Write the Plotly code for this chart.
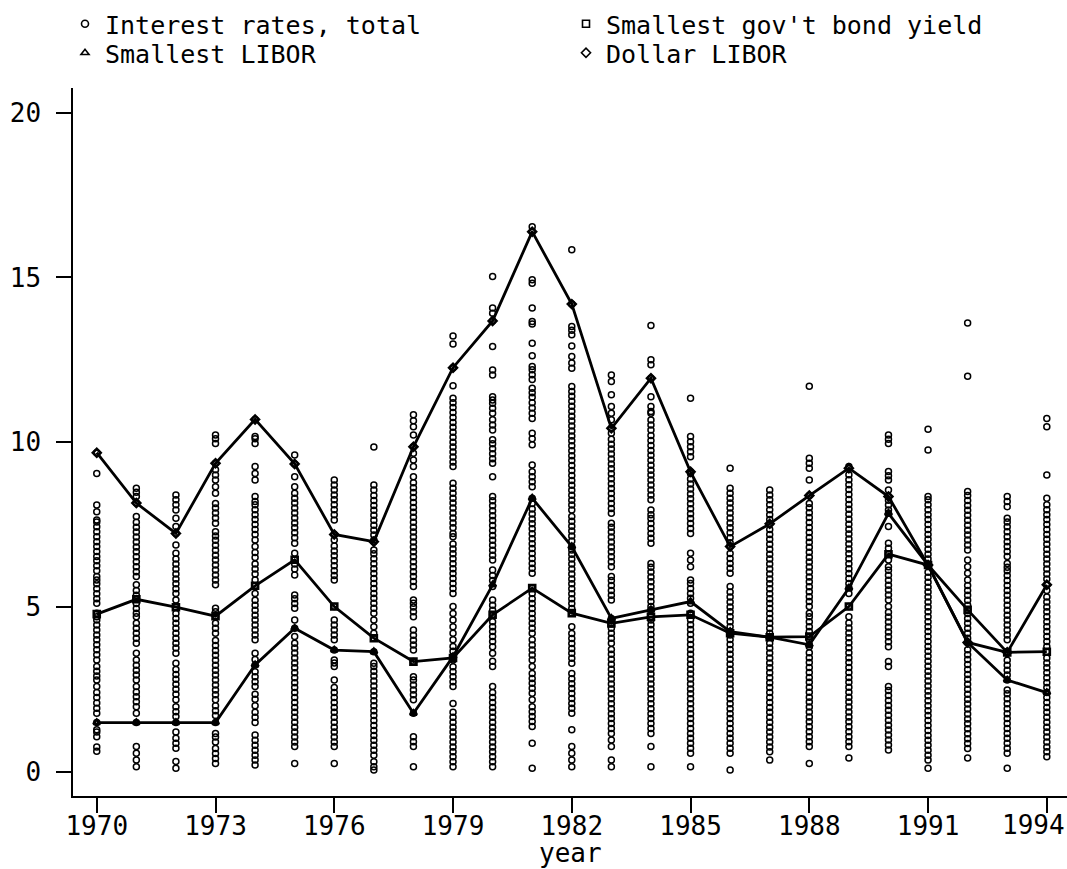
import plotly.graph_objects as go

years = list(range(1970, 1995))

dollar_libor = [9.68, 8.15, 7.23, 9.36, 10.69, 9.34, 7.20, 6.98, 9.86, 12.26, 13.68, 16.39, 14.19,
                10.42, 11.94, 9.10, 6.83, 7.52, 8.38, 9.21, 8.35, 6.27, 3.92, 3.62, 5.67]
smallest_bond = [4.78, 5.23, 4.99, 4.72, 5.64, 6.43, 5.01, 4.05, 3.34, 3.45, 4.76, 5.57, 4.81,
                 4.50, 4.70, 4.76, 4.20, 4.08, 4.10, 5.01, 6.60, 6.27, 4.91, 3.62, 3.64]
smallest_libor = [1.49, 1.49, 1.49, 1.49, 3.24, 4.35, 3.69, 3.64, 1.77, 3.49, 5.67, 8.30, 6.83,
                  4.65, 4.91, 5.16, 4.25, 4.08, 3.85, 5.57, 7.84, 6.27, 3.92, 2.78, 2.40]

rates_1970 = [0.62,0.75,1.06,1.2,1.27,1.49,1.77,1.92,2.08,2.25,2.4,2.58,2.78,2.9,3.05,3.19,3.39,3.55,3.7,3.85,4.0,4.15,4.3,4.45,4.6,4.7,4.81,5.11,5.25,5.4,5.55,5.7,5.82,5.92,6.1,6.25,6.4,6.53,6.68,6.83,6.98,7.13,7.28,7.43,7.58,7.64,7.89,8.09,9.05,9.68]
rates_1971 = [0.15,0.35,0.56,0.76,1.49,1.77,1.97,2.12,2.27,2.42,2.58,2.78,2.93,3.08,3.23,3.39,3.59,3.9,4.05,4.2,4.35,4.5,4.7,4.81,4.95,5.1,5.23,5.35,5.5,5.67,5.92,6.07,6.22,6.37,6.52,6.67,6.82,6.97,7.12,7.27,7.42,7.57,7.74,8.15,8.35,8.48,8.6]
rates_1972 = [0.1,0.31,0.71,0.86,1.01,1.2,1.49,1.67,1.82,1.97,2.18,2.35,2.5,2.65,2.8,2.95,3.1,3.29,3.59,3.75,3.9,4.05,4.2,4.35,4.5,4.65,4.8,4.99,5.21,5.41,5.55,5.7,5.85,6.0,6.15,6.3,6.45,6.63,6.88,7.23,7.44,7.69,7.94,8.1,8.25,8.4]
rates_1973 = [0.25,0.4,0.55,0.7,0.9,1.05,1.16,1.49,1.7,1.85,2.0,2.18,2.33,2.48,2.63,2.78,2.93,3.08,3.23,3.38,3.53,3.68,3.83,3.98,4.2,4.35,4.5,4.72,4.85,4.96,5.67,5.82,5.97,6.12,6.27,6.42,6.57,6.72,6.87,7.02,7.15,7.28,7.54,7.7,7.85,8.0,8.14,8.45,8.65,8.85,9.0,9.16,9.36,9.96,10.1,10.22]
rates_1974 = [0.2,0.35,0.5,0.65,0.8,0.95,1.11,1.49,1.65,1.8,2.0,2.2,2.35,2.58,2.73,2.88,3.03,3.24,3.4,3.59,4.0,4.15,4.3,4.45,4.6,4.75,4.9,5.05,5.2,5.41,5.64,5.82,6.0,6.15,6.3,6.5,6.65,6.83,7.03,7.2,7.35,7.5,7.65,7.8,7.95,8.1,8.2,8.35,8.85,9.05,9.26,9.96,10.1,10.17,10.69]
rates_1975 = [0.25,0.76,0.9,1.05,1.2,1.35,1.5,1.65,1.8,1.95,2.1,2.25,2.4,2.55,2.7,2.85,3.0,3.15,3.3,3.45,3.6,3.75,3.9,4.1,4.35,4.6,4.96,5.1,5.25,5.36,5.97,6.15,6.3,6.43,6.63,6.93,7.1,7.25,7.4,7.55,7.7,7.85,8.0,8.15,8.3,8.45,8.65,8.95,9.34,9.61]
rates_1976 = [0.25,0.76,0.9,1.05,1.2,1.35,1.5,1.65,1.8,1.95,2.1,2.25,2.4,2.55,2.78,3.19,3.3,3.39,3.69,4.0,4.15,4.3,4.45,4.6,5.01,5.82,5.95,6.1,6.25,6.4,6.55,6.7,6.85,7.03,7.2,7.64,7.8,7.95,8.1,8.25,8.4,8.55,8.7,8.85]
rates_1977 = [0.05,0.15,0.3,0.5,0.65,0.8,0.95,1.1,1.25,1.4,1.55,1.7,1.85,2.0,2.15,2.3,2.45,2.6,2.75,2.9,3.05,3.19,3.29,3.64,4.05,4.2,4.4,4.6,4.81,4.96,5.11,5.26,5.41,5.56,5.71,5.86,6.01,6.16,6.31,6.46,6.61,6.73,6.98,7.03,7.18,7.33,7.48,7.63,7.78,7.93,8.08,8.23,8.38,8.55,8.7,9.85]
rates_1978 = [0.15,0.76,0.91,1.06,1.77,2.18,2.33,2.48,2.63,2.78,2.88,3.34,3.69,3.84,3.99,4.14,4.3,4.7,4.85,5.0,5.11,5.21,5.62,5.77,5.92,6.07,6.22,6.37,6.52,6.67,6.82,6.97,7.12,7.27,7.42,7.57,7.72,7.87,8.02,8.17,8.32,8.47,8.62,8.77,8.95,9.26,9.46,9.66,9.86,10.22,10.47,10.65,10.83]
rates_1979 = [0.15,0.3,0.45,0.6,0.75,0.9,1.05,1.2,1.35,1.5,1.65,1.8,2.07,2.58,2.73,2.88,3.03,3.18,3.39,3.49,3.65,3.8,4.0,4.2,4.4,4.6,4.8,5.01,5.41,5.56,5.71,5.86,6.01,6.16,6.31,6.46,6.61,6.76,6.91,7.13,7.23,7.4,7.55,7.7,7.85,8.0,8.15,8.3,8.45,8.6,8.75,9.26,9.4,9.55,9.7,9.85,10.0,10.15,10.3,10.45,10.6,10.75,10.9,11.05,11.2,11.33,11.71,12.26,12.98,13.22]
rates_1980 = [0.15,0.3,0.45,0.6,0.75,0.9,1.05,1.2,1.35,1.5,1.65,1.8,1.95,2.1,2.25,2.4,2.58,3.19,3.35,3.59,3.79,3.95,4.1,4.25,4.4,4.55,4.76,4.9,5.05,5.21,5.62,5.8,5.95,6.12,6.42,6.57,6.72,6.87,7.02,7.17,7.32,7.47,7.62,7.77,7.92,8.07,8.22,8.35,8.95,9.36,9.5,9.65,9.8,9.95,10.07,10.37,10.52,10.68,10.88,11.03,11.18,11.28,11.38,12.04,12.19,12.9,13.68,13.91,14.07,15.03]
rates_1981 = [0.1,0.86,1.37,1.52,1.67,1.82,1.97,2.18,2.38,2.53,2.68,2.83,2.98,3.19,3.39,3.54,3.69,3.84,4.0,4.2,4.35,4.5,4.65,4.8,4.95,5.1,5.25,5.41,5.57,6.02,6.17,6.32,6.47,6.62,6.77,6.92,7.07,7.22,7.37,7.52,7.67,7.82,7.97,8.14,8.3,8.65,8.8,8.95,9.1,9.31,9.92,10.1,10.27,10.72,10.88,11.04,11.2,11.36,11.5,11.64,11.9,12.05,12.2,12.3,12.62,13.0,13.59,13.66,14.07,14.82,14.93,16.39,16.54]
rates_1982 = [0.15,0.35,0.56,0.76,1.27,1.77,1.92,2.07,2.22,2.37,2.52,2.67,2.82,2.98,3.29,3.44,3.59,3.74,3.89,4.04,4.19,4.4,4.81,4.95,5.1,5.25,5.4,5.55,5.7,5.85,6.0,6.15,6.3,6.45,6.6,6.73,6.83,7.0,7.15,7.3,7.45,7.6,7.74,7.94,8.09,8.24,8.39,8.54,8.69,8.84,8.99,9.14,9.29,9.44,9.59,9.74,9.89,10.04,10.19,10.34,10.49,10.64,10.79,10.94,11.09,11.24,11.39,11.54,11.69,12.24,12.4,12.6,12.92,13.26,13.4,13.51,14.19,15.84]
rates_1983 = [0.15,0.35,0.76,0.96,1.16,1.31,1.46,1.61,1.76,1.91,2.06,2.21,2.36,2.51,2.66,2.81,2.96,3.11,3.26,3.41,3.56,3.71,3.9,4.05,4.2,4.35,4.48,4.65,5.21,5.35,5.5,5.65,5.8,5.92,6.22,6.37,6.52,6.67,6.82,6.97,7.12,7.27,7.42,7.54,7.84,7.99,8.14,8.29,8.44,8.59,8.74,8.89,9.04,9.19,9.34,9.49,9.64,9.79,9.94,10.09,10.27,10.42,10.68,10.88,11.08,11.44,11.84,12.04]
rates_1984 = [0.15,0.76,1.16,1.31,1.46,1.61,1.76,1.91,2.06,2.21,2.36,2.51,2.66,2.81,2.96,3.11,3.26,3.41,3.56,3.71,3.86,4.01,4.16,4.31,4.46,4.6,4.7,4.91,5.01,5.16,5.31,5.46,5.61,5.76,5.91,6.06,6.2,6.32,6.93,7.08,7.23,7.38,7.53,7.68,7.8,7.94,8.25,8.4,8.55,8.7,8.85,9.0,9.15,9.3,9.45,9.6,9.75,9.9,10.05,10.2,10.37,10.52,10.67,10.88,10.93,11.08,11.38,11.94,12.35,12.5,13.54]
rates_1985 = [0.15,0.56,0.71,0.86,1.01,1.16,1.31,1.46,1.61,1.76,1.91,2.06,2.21,2.36,2.51,2.66,2.81,2.96,3.11,3.26,3.41,3.56,3.71,3.86,4.01,4.16,4.31,4.46,4.61,4.76,4.81,5.11,5.26,5.41,5.56,5.71,5.82,6.22,6.42,6.63,7.23,7.38,7.53,7.68,7.83,7.98,8.13,8.28,8.43,8.58,8.73,8.88,9.05,9.1,9.56,9.71,9.86,10.01,10.17,11.33]
rates_1986 = [0.05,0.56,0.71,0.86,1.01,1.16,1.31,1.46,1.61,1.76,1.91,2.06,2.21,2.36,2.51,2.66,2.81,2.96,3.11,3.26,3.41,3.56,3.71,3.86,4.01,4.15,4.25,4.4,4.55,4.7,4.85,5.0,5.15,5.3,5.45,5.62,6.02,6.17,6.32,6.47,6.62,6.83,6.95,7.1,7.25,7.4,7.55,7.7,7.85,8.0,8.15,8.3,8.45,8.6,9.21]
rates_1987 = [0.35,0.6,0.75,0.9,1.05,1.2,1.35,1.5,1.65,1.8,1.95,2.1,2.25,2.4,2.55,2.7,2.85,3.0,3.15,3.3,3.45,3.6,3.75,3.9,4.08,4.2,4.35,4.5,4.65,4.8,4.95,5.1,5.25,5.4,5.55,5.7,5.85,6.0,6.15,6.3,6.45,6.6,6.75,6.9,7.05,7.2,7.35,7.52,7.65,7.8,7.95,8.1,8.25,8.4,8.55]
rates_1988 = [0.25,0.76,0.91,1.06,1.21,1.36,1.51,1.66,1.81,1.96,2.11,2.26,2.41,2.56,2.71,2.86,3.01,3.16,3.31,3.46,3.61,3.79,3.85,4.0,4.1,4.25,4.4,4.55,4.7,4.81,5.01,5.16,5.31,5.46,5.61,5.76,5.91,6.06,6.21,6.36,6.51,6.66,6.81,6.96,7.11,7.26,7.41,7.56,7.71,7.86,8.01,8.14,8.38,8.85,9.21,9.36,9.51,11.7]
rates_1989 = [0.41,0.76,0.91,1.06,1.21,1.36,1.51,1.66,1.81,1.96,2.11,2.26,2.41,2.56,2.71,2.86,3.01,3.16,3.31,3.46,3.61,3.76,3.91,4.06,4.21,4.36,4.51,4.7,5.01,5.41,5.57,5.71,5.86,6.01,6.16,6.31,6.46,6.61,6.76,6.91,7.06,7.21,7.36,7.51,7.66,7.81,7.96,8.11,8.26,8.41,8.56,8.71,8.86,9.01,9.21,9.26]
rates_1990 = [0.66,0.81,0.96,1.11,1.26,1.41,1.56,1.71,1.86,2.01,2.16,2.31,2.46,2.58,3.19,3.34,3.79,3.94,4.09,4.24,4.39,4.54,4.69,4.84,5.01,5.21,5.36,5.51,5.66,5.81,5.96,6.11,6.22,6.42,6.6,6.78,6.93,7.44,7.84,7.94,8.09,8.24,8.35,8.55,8.85,8.98,9.11,9.96,10.09,10.22]
rates_1991 = [0.1,0.35,0.5,0.65,0.8,0.95,1.1,1.25,1.4,1.55,1.7,1.85,2.0,2.15,2.3,2.45,2.6,2.75,2.9,3.05,3.2,3.35,3.5,3.65,3.8,3.95,4.1,4.25,4.4,4.55,4.7,4.85,5.0,5.15,5.3,5.45,5.6,5.75,5.9,6.05,6.27,6.45,6.6,6.75,6.9,7.05,7.2,7.35,7.5,7.65,7.8,7.95,8.1,8.25,8.35,9.76,10.39]
rates_1992 = [0.41,0.7,0.85,1.0,1.15,1.3,1.45,1.6,1.75,1.9,2.05,2.2,2.35,2.5,2.65,2.8,2.95,3.1,3.25,3.4,3.55,3.7,3.92,4.05,4.2,4.35,4.5,4.65,4.8,4.91,5.05,5.2,5.35,5.5,5.65,5.82,6.02,6.22,6.42,6.73,6.88,7.03,7.18,7.33,7.48,7.63,7.78,7.93,8.08,8.23,8.38,8.5,12.0,13.62]
rates_1993 = [0.1,0.56,0.71,0.86,1.01,1.16,1.31,1.46,1.61,1.76,1.91,2.06,2.21,2.36,2.48,2.78,2.93,3.08,3.23,3.38,3.59,3.62,4.0,4.15,4.3,4.45,4.6,4.75,4.9,5.05,5.2,5.35,5.5,5.65,5.8,5.95,6.1,6.2,6.32,6.53,6.68,6.83,6.98,7.13,7.28,7.43,7.58,7.69,8.04,8.2,8.35]
rates_1994 = [0.45,0.6,0.75,0.9,1.05,1.2,1.35,1.5,1.65,1.8,1.95,2.1,2.25,2.4,2.55,2.7,2.85,3.0,3.15,3.3,3.45,3.64,3.8,3.95,4.1,4.25,4.4,4.55,4.7,4.85,5.0,5.15,5.3,5.5,5.67,5.85,6.0,6.15,6.3,6.45,6.6,6.75,6.9,7.05,7.2,7.35,7.5,7.65,7.8,7.95,8.1,8.3,9.0,10.47,10.72]

rates_by_year = [rates_1970, rates_1971, rates_1972, rates_1973, rates_1974, rates_1975, rates_1976,
                 rates_1977, rates_1978, rates_1979, rates_1980, rates_1981, rates_1982, rates_1983,
                 rates_1984, rates_1985, rates_1986, rates_1987, rates_1988, rates_1989, rates_1990,
                 rates_1991, rates_1992, rates_1993, rates_1994]

x_tick_vals = [1970, 1973, 1976, 1979, 1982, 1985, 1988, 1991, 1994]
x_tick_labels = ["1970", "1973", "1976", "1979", "1982", "1985", "1988", "1991", "1994"]
y_tick_vals = [0, 5, 10, 15, 20]

scatter_x = []
scatter_y = []
for yr, vals in zip(years, rates_by_year):
    scatter_x.extend([yr] * len(vals))
    scatter_y.extend(vals)

FONT = "DejaVu Sans Mono"
W, H = 1067, 869
PLOT_BOTTOM = 796
PLOT_H = 708

fig = go.Figure()

fig.add_trace(go.Scatter(
    x=scatter_x, y=scatter_y, mode="markers", showlegend=False,
    marker=dict(symbol="circle-open", size=6, color="black", line=dict(width=1.5, color="black")),
))

line_style = dict(color="black", width=2.8)
for name, vals, sym in [("Smallest gov't bond yield", smallest_bond, "square-open"),
                        ("Smallest LIBOR", smallest_libor, "triangle-up-open"),
                        ("Dollar LIBOR", dollar_libor, "diamond-open")]:
    fig.add_trace(go.Scatter(
        x=years, y=vals, mode="lines+markers", showlegend=False, line=line_style,
        marker=dict(symbol=sym, size=6, color="black", line=dict(width=2.6, color="black")),
    ))

# legend keys (marker only), one legend box per entry
legend_items = [("Interest rates, total", "circle-open", "legend"),
                ("Smallest LIBOR", "triangle-up-open", "legend2"),
                ("Smallest gov't bond yield", "square-open", "legend3"),
                ("Dollar LIBOR", "diamond-open", "legend4")]
for name, sym, lg in legend_items:
    fig.add_trace(go.Scatter(
        x=[None], y=[None], mode="markers", name=name, legend=lg, showlegend=True,
        marker=dict(symbol=sym, size=7, color="black", line=dict(width=1.6, color="black")),
    ))

legend_common = dict(xref="container", yref="container", yanchor="middle", xanchor="left",
                     font=dict(family=FONT, size=25, color="black"), bgcolor="rgba(0,0,0,0)",
                     borderwidth=0, tracegroupgap=0, itemwidth=30)

# the last tick label sits shifted left so that it stays inside the page (as in the original)
tick_text_axis = x_tick_labels[:-1] + [""]
last_label = dict(text=x_tick_labels[-1], xref="x", yref="paper", x=x_tick_vals[-1],
                  y=-(825 - PLOT_BOTTOM) / PLOT_H, xanchor="center", yanchor="middle",
                  xshift=-13, showarrow=False, font=dict(family=FONT, size=26, color="black"))
year_title = dict(text="year", xref="paper", yref="paper", x=0.5, y=-(853 - PLOT_BOTTOM) / PLOT_H,
                  xanchor="center", yanchor="middle", showarrow=False, borderpad=0,
                  font=dict(family=FONT, size=26, color="black"))

fig.update_layout(
    width=W, height=H,
    margin=dict(l=73, r=0, t=88, b=73, autoexpand=False),
    paper_bgcolor="white", plot_bgcolor="white",
    font=dict(family=FONT, size=26, color="black"),
    showlegend=True,
    legend=dict(x=65 / W, y=1 - 24 / H, **legend_common),
    legend2=dict(x=65 / W, y=1 - 53 / H, **legend_common),
    legend3=dict(x=566 / W, y=1 - 24 / H, **legend_common),
    legend4=dict(x=566 / W, y=1 - 53 / H, **legend_common),
    xaxis=dict(
        range=[1969.4, 1994.51], tickmode="array", tickvals=x_tick_vals, ticktext=tick_text_axis,
        ticks="outside", ticklen=15, tickwidth=1.5, tickcolor="black",
        showline=True, linewidth=1.5, linecolor="black", showgrid=False, zeroline=False,
        tickfont=dict(family=FONT, size=26, color="black"), tickangle=0,
        ticklabelstandoff=-9,
    ),
    yaxis=dict(
        range=[-0.74, 20.75], tickmode="array", tickvals=y_tick_vals,
        ticks="outside", ticklen=15, tickwidth=1.5, tickcolor="black",
        showline=True, linewidth=1.5, linecolor="black", showgrid=False, zeroline=False,
        tickfont=dict(family=FONT, size=26, color="black"), ticklabelstandoff=10,
    ),
    annotations=[last_label, year_title],
)

fig.write_html("out.html")
